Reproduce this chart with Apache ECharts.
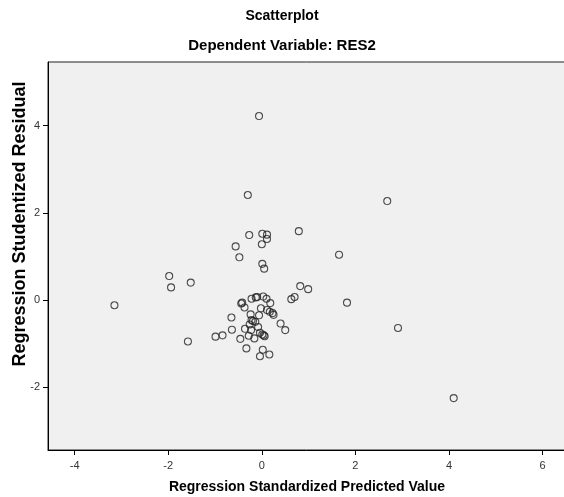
<!DOCTYPE html>
<html>
<head>
<meta charset="utf-8">
<title>Scatterplot</title>
<script src="https://cdn.jsdelivr.net/npm/echarts@6/dist/echarts.min.js"></script>
<style>
    html, body {margin: 0; padding: 0; background: #fff;}
    #chart-container {width: 564px; height: 497px;}
</style>
</head>
<body>
<div id="chart-container"></div>
<script>
// values
const predicted = [
    -0.06, -0.30, -0.27, 0.01, 0.11, 0.11, 0.79, 0.00, -0.56, -0.48,
    1.65, 0.01, 0.05, -1.98, -1.94, -1.52, 0.82, 0.99, 1.82, 0.63,
    0.70, -1.58, -0.99, -0.84, -0.65, -0.64, -0.46, -0.33, -0.04, 0.02,
    0.16, 0.40, 0.50, -0.44, -0.42, -0.37, -0.22, -0.13, -0.10, 0.03,
    0.10, 0.18, -0.02, 0.11, 0.17, 0.23, 0.25, -0.24, -0.06, -0.22,
    -0.19, -0.14, -0.26, -0.36, -0.23, -0.08, -0.04, 0.01, 0.06, -0.28,
    -0.16, 0.04, -3.15, 2.68, 2.91, 4.10
];
const residual = [
    4.22, 2.41, 1.49, 1.52, 1.50, 1.40, 1.58, 1.28, 1.23, 0.98,
    1.04, 0.83, 0.72, 0.55, 0.29, 0.40, 0.32, 0.25, -0.06, 0.02,
    0.07, -0.95, -0.84, -0.81, -0.40, -0.68, -0.89, -1.11, -1.29, -1.14,
    -1.25, -0.54, -0.69, -0.08, -0.06, -0.17, 0.03, 0.06, 0.07, 0.08,
    0.03, -0.07, -0.19, -0.23, -0.27, -0.30, -0.34, -0.33, -0.35, -0.46,
    -0.48, -0.50, -0.56, -0.66, -0.69, -0.62, -0.75, -0.79, -0.83, -0.82,
    -0.88, -0.81, -0.12, 2.27, -0.64, -2.25
];

const xTicks = [-4, -2, 0, 2, 4, 6];
const yTicks = [-2, 0, 2, 4];

const chartDom = document.getElementById('chart-container');
const myChart = echarts.init(chartDom);

const points = predicted.map(function (x, i) {
    return [x, residual[i]];
});

const font = 'Liberation Sans, Arial, sans-serif';

var option;

option = {
    animation: false,
    backgroundColor: '#fff',
    title: [
        {
            text: 'Scatterplot',
            left: 'center',
            top: 9,
            padding: 0,
            textStyle: {fontFamily: font, fontSize: 14, fontWeight: 'bold', color: '#000'}
        },
        {
            text: 'Dependent Variable: RES2',
            left: 'center',
            top: 38,
            padding: 0,
            textStyle: {fontFamily: font, fontSize: 15, fontWeight: 'bold', color: '#000'}
        }
    ],
    grid: {
        left: 48,
        top: 62,
        width: 518,
        height: 388,
        outerBoundsMode: 'none',
        containLabel: false,
        show: true,
        backgroundColor: '#f0f0f0',
        borderColor: '#222',
        borderWidth: 1
    },
    xAxis: {
        type: 'value',
        min: -4.57,
        max: 6.5,
        name: 'Regression Standardized Predicted Value',
        nameLocation: 'middle',
        nameGap: 30,
        nameMoveOverlap: false,
        nameTextStyle: {fontFamily: font, fontSize: 14, fontWeight: 'bold', color: '#000'},
        axisLine: {show: true, onZero: false, lineStyle: {color: '#000', width: 1}},
        axisTick: {show: true, length: 5, customValues: xTicks, lineStyle: {color: '#000'}},
        axisLabel: {customValues: xTicks, margin: 10, fontFamily: font, fontSize: 11, color: '#333'},
        splitLine: {show: false}
    },
    yAxis: {
        type: 'value',
        min: -3.44,
        max: 5.46,
        name: 'Regression Studentized Residual',
        nameLocation: 'middle',
        nameGap: 19,
        nameMoveOverlap: false,
        nameTextStyle: {fontFamily: font, fontSize: 18, fontWeight: 'bold', color: '#000', padding: [0, 0, 0, 64]},
        axisLine: {show: true, onZero: false, lineStyle: {color: '#000', width: 1}},
        axisTick: {show: true, length: 5, customValues: yTicks, lineStyle: {color: '#000'}},
        axisLabel: {customValues: yTicks, margin: 8, fontFamily: font, fontSize: 11, color: '#333'},
        splitLine: {show: false}
    },
    series: [
        {
            type: 'scatter',
            data: points,
            symbol: 'circle',
            symbolSize: 7,
            itemStyle: {color: 'transparent', borderColor: '#222', borderWidth: 1.1}
        }
    ]
};

option && myChart.setOption(option);
</script>
</body>
</html>
